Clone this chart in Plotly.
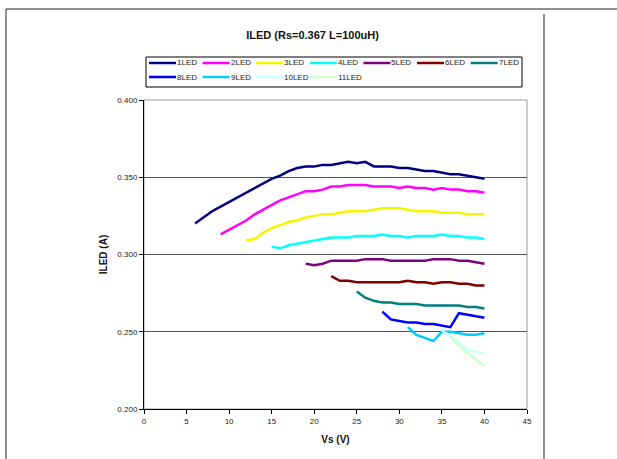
import plotly.graph_objects as go

# Supply-voltage sweeps (V) and measured LED current (A) for 1..11 LEDs in series
vs_1led = list(range(6, 41))
iled_1led = [0.320, 0.324, 0.328, 0.331, 0.334, 0.337, 0.340, 0.343, 0.346, 0.349,
             0.351, 0.354, 0.356, 0.357, 0.357, 0.358, 0.358, 0.359, 0.360, 0.359,
             0.360, 0.357, 0.357, 0.357, 0.356, 0.356, 0.355, 0.354, 0.354, 0.353,
             0.352, 0.352, 0.351, 0.350, 0.349]

vs_2led = list(range(9, 41))
iled_2led = [0.313, 0.316, 0.319, 0.322, 0.326, 0.329, 0.332, 0.335, 0.337, 0.339,
             0.341, 0.341, 0.342, 0.344, 0.344, 0.345, 0.345, 0.345, 0.344, 0.344,
             0.344, 0.343, 0.344, 0.343, 0.343, 0.342, 0.343, 0.342, 0.342, 0.341,
             0.341, 0.340]

vs_3led = list(range(12, 41))
iled_3led = [0.309, 0.310, 0.314, 0.317, 0.319, 0.321, 0.322, 0.324, 0.325, 0.326,
             0.326, 0.327, 0.328, 0.328, 0.328, 0.329, 0.330, 0.330, 0.330, 0.329,
             0.328, 0.328, 0.328, 0.327, 0.327, 0.327, 0.326, 0.326, 0.326]

vs_4led = list(range(15, 41))
iled_4led = [0.305, 0.304, 0.306, 0.307, 0.308, 0.309, 0.310, 0.311, 0.311, 0.311,
             0.312, 0.312, 0.312, 0.313, 0.312, 0.312, 0.311, 0.312, 0.312, 0.312,
             0.313, 0.312, 0.312, 0.311, 0.311, 0.310]

vs_5led = list(range(19, 41))
iled_5led = [0.294, 0.293, 0.294, 0.296, 0.296, 0.296, 0.296, 0.297, 0.297, 0.297,
             0.296, 0.296, 0.296, 0.296, 0.296, 0.297, 0.297, 0.297, 0.296, 0.296,
             0.295, 0.294]

vs_6led = list(range(22, 41))
iled_6led = [0.286, 0.283, 0.283, 0.282, 0.282, 0.282, 0.282, 0.282, 0.282, 0.283,
             0.282, 0.282, 0.281, 0.282, 0.282, 0.281, 0.281, 0.280, 0.280]

vs_7led = list(range(25, 41))
iled_7led = [0.276, 0.272, 0.270, 0.269, 0.269, 0.268, 0.268, 0.268, 0.267, 0.267,
             0.267, 0.267, 0.267, 0.266, 0.266, 0.265]

vs_8led = list(range(28, 41))
iled_8led = [0.263, 0.258, 0.257, 0.256, 0.256, 0.255, 0.255, 0.254, 0.253, 0.262,
             0.261, 0.260, 0.259]

vs_9led = list(range(31, 41))
iled_9led = [0.253, 0.248, 0.246, 0.244, 0.250, 0.250, 0.249, 0.248, 0.248, 0.249]

vs_10led = list(range(35, 41))
iled_10led = [0.251, 0.247, 0.243, 0.238, 0.237, 0.236]

vs_11led = list(range(36, 41))
iled_11led = [0.247, 0.241, 0.236, 0.232, 0.228]

series_names = ["1LED", "2LED", "3LED", "4LED", "5LED", "6LED",
                "7LED", "8LED", "9LED", "10LED", "11LED"]
series_x = [vs_1led, vs_2led, vs_3led, vs_4led, vs_5led, vs_6led,
            vs_7led, vs_8led, vs_9led, vs_10led, vs_11led]
series_y = [iled_1led, iled_2led, iled_3led, iled_4led, iled_5led, iled_6led,
            iled_7led, iled_8led, iled_9led, iled_10led, iled_11led]
series_colors = ["#000080", "#FF00FF", "#F8F400", "#00FFFF", "#800080", "#800000",
                 "#008080", "#0000FF", "#00CCFF", "#CCFFFF", "#CCFFCC"]

x_ticks = list(range(0, 50, 5))
y_ticks = [0.200, 0.250, 0.300, 0.350, 0.400]

FONT = "Liberation Sans, Arial, sans-serif"

# figure geometry (pixels) used to place the page frame and the compact legend
W, H = 617, 459
ML, MR, MT, MB = 144, 90, 100, 50
PW, PH = W - ML - MR, H - MT - MB


def px_x(px):
    return (px - ML) / PW


def px_y(py):
    return (H - MB - py) / PH


fig = go.Figure()
for name, xs, ys, col in zip(series_names, series_x, series_y, series_colors):
    fig.add_trace(go.Scatter(x=xs, y=ys, name=name, mode="lines",
                             line=dict(color=col, width=2.5), showlegend=False))

shapes = []
annotations = []

# plot-area frame (grey top/right edges), drawn under the black axis lines
shapes.append(dict(type="rect", xref="paper", yref="paper", x0=0, x1=1, y0=0, y1=1,
                   line=dict(color="#999999", width=1), layer="below"))

# page border lines around the chart object
page = dict(color="#222222", width=1)
shapes.append(dict(type="line", xref="paper", yref="paper",
                   x0=px_x(6), x1=px_x(W), y0=px_y(9), y1=px_y(9), line=page))
shapes.append(dict(type="line", xref="paper", yref="paper",
                   x0=px_x(6), x1=px_x(6), y0=px_y(9), y1=px_y(H), line=page))
shapes.append(dict(type="line", xref="paper", yref="paper",
                   x0=px_x(544), x1=px_x(544), y0=px_y(14), y1=px_y(H), line=page))

# compact two-row legend: 7 entries per row, short sample line then label
LEG_L, LEG_R, LEG_T, LEG_B = 146, 522, 57, 87
COLS, COL_W, ROW_H = 7, 53.6, 14
FIRST_X, FIRST_Y, SAMPLE_LEN = 149, 63, 27
shapes.append(dict(type="rect", xref="paper", yref="paper",
                   x0=px_x(LEG_L), x1=px_x(LEG_R), y0=px_y(LEG_B), y1=px_y(LEG_T),
                   line=dict(color="#000000", width=1), fillcolor="white"))
for i, (name, col) in enumerate(zip(series_names, series_colors)):
    lx = FIRST_X + COL_W * (i % COLS)
    ly = FIRST_Y + ROW_H * (i // COLS)
    shapes.append(dict(type="line", xref="paper", yref="paper",
                       x0=px_x(lx), x1=px_x(lx + SAMPLE_LEN),
                       y0=px_y(ly), y1=px_y(ly),
                       line=dict(color=col, width=2.5)))
    annotations.append(dict(text=name, xref="paper", yref="paper",
                            x=px_x(lx + SAMPLE_LEN), y=px_y(ly),
                            xanchor="left", yanchor="middle", showarrow=False,
                            xshift=-1,
                            font=dict(family=FONT, size=8, color="#222222")))

fig.update_layout(
    width=W, height=H,
    margin=dict(l=ML, r=MR, t=MT, b=MB),
    paper_bgcolor="white", plot_bgcolor="white",
    font=dict(family=FONT, size=8, color="#222222"),
    title=dict(text="<b>ILED (Rs=0.367 L=100uH)</b>", x=px_x(312.5), xref="paper",
               xanchor="center", y=1 - 35 / H, yref="container", yanchor="middle",
               font=dict(family=FONT, size=11, color="#111111")),
    showlegend=False,
    shapes=shapes,
    annotations=annotations,
    xaxis=dict(range=[0, 45], tickvals=x_ticks, ticks="outside", ticklen=4,
               tickcolor="#000000", showline=True, linecolor="#000000",
               linewidth=1, showgrid=False, zeroline=False,
               title=dict(text="<b>Vs (V)</b>", standoff=11,
                          font=dict(family=FONT, size=10, color="#111111"))),
    yaxis=dict(range=[0.2, 0.4], tickvals=y_ticks, tickformat=".3f",
               ticks="outside", ticklen=4, tickcolor="#000000",
               showline=True, linecolor="#000000", linewidth=1,
               showgrid=True, gridcolor="#555555", gridwidth=1, zeroline=False,
               title=dict(text="<b>ILED (A)</b>", standoff=7,
                          font=dict(family=FONT, size=10, color="#111111"))),
)

fig.write_html("out.html")
